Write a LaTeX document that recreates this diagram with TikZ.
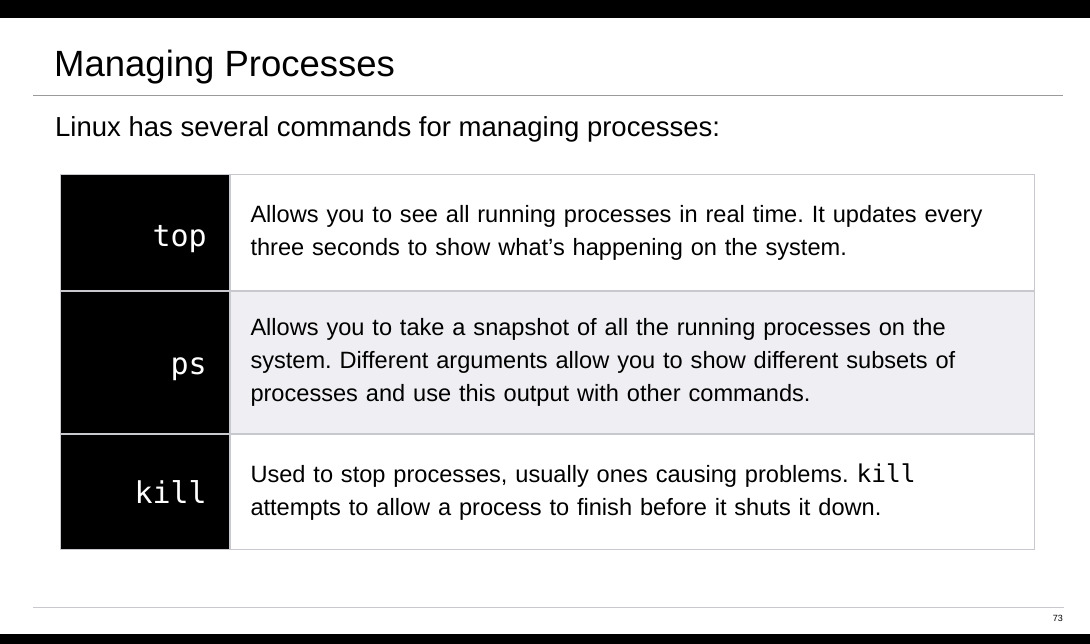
\documentclass[tikz,border=0pt]{standalone}
\usepackage{fontspec}
\setmainfont{Liberation Sans}
\setmonofont{DejaVu Sans Mono}
\usetikzlibrary{positioning}
\frenchspacing

\definecolor{gridgray}{HTML}{C8C9CE}
\definecolor{rulegray}{HTML}{9A9A9A}
\definecolor{rowgray}{HTML}{EFEFF3}

\tikzset{
  cmdcell/.style={fill=black, draw=gridgray, line width=1pt, minimum width=169pt, inner sep=0pt, anchor=north west},
  desccell/.style={draw=gridgray, line width=1pt, text width=764pt, inner xsep=20pt, inner ysep=0pt,
    align=left, anchor=north west, font=\fontsize{23.6}{33}\selectfont},
  cmdname/.style={text=white, font=\ttfamily\fontsize{30}{32}\selectfont, anchor=east, inner sep=0pt},
  hrule/.style={line width=1pt}
}

\begin{document}
\begin{tikzpicture}[x=1pt,y=-1pt]
  \fill[white] (0,0) rectangle (1090,644);
  \useasboundingbox (0,0) rectangle (1090,644);
  \fill[black] (0,0) rectangle (1090,18);
  \fill[black] (0,634) rectangle (1090,644);

  % heading
  \node[anchor=base west, inner sep=0pt, font=\fontsize{36.5}{40}\selectfont] (title) at (54,77) {Managing Processes};
  \coordinate (ruleL) at (33,96);
  \coordinate (ruleR) at (1063,96);
  \draw[hrule, rulegray] (ruleL) -- (ruleR);
  \node[anchor=base west, inner sep=0pt, font=\fontsize{27.5}{30}\selectfont] (intro) at (55,137)
    {Linux has several commands for managing processes:};

  % table rows
  \node[cmdcell, minimum height=116pt] (topcell) at (60,174) {};
  \node[desccell, minimum height=116pt] (topdesc) at (topcell.north east)
    {Allows you to see all running processes in real time. It updates every\\
     three seconds to show what’s happening on the system.};
  \node[cmdname] (topname) at ([xshift=-23pt,yshift=-7pt]topcell.east) {top};

  \node[cmdcell, minimum height=142pt] (pscell) at (topcell.south west) {};
  \node[desccell, fill=rowgray, minimum height=142pt] (psdesc) at (pscell.north east)
    {Allows you to take a snapshot of all the running processes on the\\
     system. Different arguments allow you to show different subsets of\\
     processes and use this output with other commands.};
  \node[cmdname] (psname) at ([xshift=-23pt,yshift=-7pt]pscell.east) {ps};

  \node[cmdcell, minimum height=115pt] (killcell) at (pscell.south west) {};
  \node[desccell, minimum height=115pt] (killdesc) at (killcell.north east)
    {Used to stop processes, usually ones causing problems. {\ttfamily\fontsize{24.5}{33}\selectfont kill}\\
     attempts to allow a process to finish before it shuts it down.};
  \node[cmdname] (killname) at ([xshift=-23pt]killcell.east) {kill};

  % footer
  \coordinate (footL) at (33,607);
  \coordinate (footR) at (1064,607);
  \draw[hrule, gridgray] (footL) -- (footR);
  \node[anchor=east, inner sep=0pt, font=\fontsize{9}{10}\selectfont] (pageno) at (1063,618) {73};
\end{tikzpicture}
\end{document}
